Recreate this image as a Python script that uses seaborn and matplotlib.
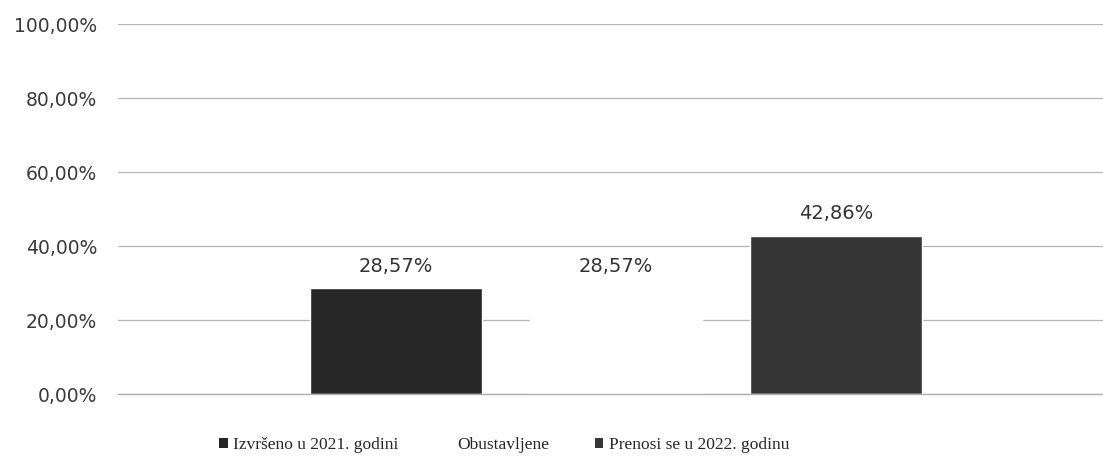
import matplotlib
matplotlib.use("Agg")
import matplotlib.pyplot as plt
import seaborn as sns
import pandas as pd
from matplotlib.ticker import FuncFormatter
from matplotlib.patches import Patch

# --- PODACI ---
kategorije = ["Izvršeno u 2021. godini", "Obustavljene", "Prenosi se u 2022. godinu"]
procenti = [28.57, 28.57, 42.86]
boje = ["#262626", "#ffffff", "#363636"]
y_ticks = [0, 20, 40, 60, 80, 100]

df = pd.DataFrame({"kategorija": kategorije, "procenat": procenti})

sns.set_style("white")
plt.rcParams["font.family"] = ["DejaVu Sans"]

fig = plt.figure(figsize=(11.03, 4.67), dpi=100)
ax = fig.add_axes([0.107, 0.156, 0.893, 0.7925])

sns.barplot(data=df, x="kategorija", y="procenat", hue="kategorija",
            palette=dict(zip(kategorije, boje)), width=0.78,
            dodge=False, legend=False, ax=ax, zorder=3)

# oznake vrijednosti iznad stubova
for cont in ax.containers:
    ax.bar_label(cont, labels=[f"{v:.2f}%".replace(".", ",") for v in cont.datavalues],
                 padding=9, fontsize=14, color="#333333")

ax.set_ylim(0, 100)
ax.set_xlim(-1.26, 3.21)
ax.set_yticks(y_ticks)
ax.yaxis.set_major_formatter(FuncFormatter(lambda v, p: f"{v:.2f}%".replace(".", ",")))
ax.tick_params(axis="y", length=0, pad=15, labelsize=13.5, labelcolor="#3a3a3a")
ax.set_xticks([])
ax.set_xlabel("")
ax.set_ylabel("")
ax.grid(axis="y", color="#b5b5b5", linewidth=0.9, zorder=0)
ax.axhline(0, color="#b0b0b0", linewidth=1.0, zorder=4, clip_on=False)
for s in ax.spines.values():
    s.set_visible(False)

# legenda ispod grafika
rucke = [Patch(facecolor=b, edgecolor="none") for b in boje]
fig.legend(rucke, kategorije, loc="center", bbox_to_anchor=(0.457, 0.047), ncol=3,
           frameon=False, handlelength=0.5, handleheight=0.5, handletextpad=0.3,
           columnspacing=2.6, prop={"family": "Liberation Serif", "size": 12.5})

fig.savefig("out.png", dpi=100, facecolor="white")
